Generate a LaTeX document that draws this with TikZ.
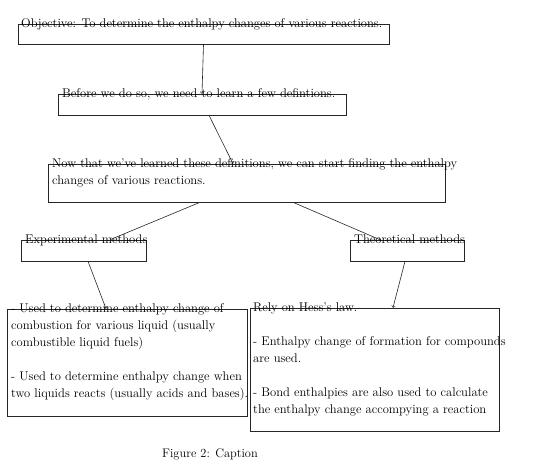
\documentclass[tikz,border=0pt]{standalone}
\usetikzlibrary{calc}
\begin{document}
\begin{tikzpicture}[x=1pt,y=-1pt,
  box/.style={draw=black!85, line width=0.6pt, inner sep=0pt, rectangle},
  txt/.style={inner sep=0pt, anchor=base west, align=left, font=\fontsize{12.6}{17}\selectfont},
  conn/.style={->, draw=black!85, line width=0.6pt}]
\useasboundingbox (0,0) rectangle (540,472);
% boxes
\node[box, minimum width=371pt, minimum height=20pt] (b1) at (203.5,34.5) {};
\node[box, minimum width=288pt, minimum height=21pt] (b2) at (202,104.5) {};
\node[box, minimum width=397pt, minimum height=38pt] (b3) at (246.5,183) {};
\node[box, minimum width=125pt, minimum height=21pt] (b4) at (83.5,250.5) {};
\node[box, minimum width=114pt, minimum height=21pt] (b5) at (407,250.5) {};
\node[box, minimum width=240pt, minimum height=107pt] (b6) at (127,362.5) {};
\node[box, minimum width=249pt, minimum height=123pt] (b7) at (374.5,369.5) {};
% texts (base = baseline of the last line)
\node[txt] (t1) at (21,27.5) {Objective: To determine the enthalpy changes of various reactions.};
\node[txt] (t2) at (62,97) {Before we do so, we need to learn a few defintions.};
\node[txt] (t3) at (52,184) {Now that we've learned these definitions, we can start finding the enthalpy\\changes of various reactions.};
\node[txt] (t4) at (25,243) {Experimental methods};
\node[txt] (t5) at (354,243) {Theoretical methods};
\node[txt] (t6) at (11,397) {- Used to determine enthalpy change of\\combustion for various liquid (usually\\combustible liquid fuels)\\[17pt]- Used to determine enthalpy change when\\two liquids reacts (usually acids and bases).};
\node[txt] (t7) at (253,413) {Rely on Hess's law.\\[17pt]- Enthalpy change of formation for compounds\\are used.\\[17pt]- Bond enthalpies are also used to calculate\\the enthalpy change accompying a reaction};
\node[inner sep=0pt, font=\fontsize{12.4}{15}\selectfont] (cap) at (210,454) {Figure 2: Caption};
% connectors
\draw[conn] (b1.south) -- (b2.north);
\draw[conn] ([xshift=7pt]b2.south) -- ([xshift=-13.5pt]b3.north);
\draw[conn] ([xshift=-46.5pt]b3.south) -- ([xshift=26.5pt]b4.north);
\draw[conn] ([xshift=46.5pt]b3.south) -- ([xshift=-27pt]b5.north);
\draw[conn] ([xshift=4.5pt]b4.south) -- ([xshift=-21pt]b6.north);
\draw[conn] ([xshift=-2pt]b5.south) -- ([xshift=18.5pt]b7.north);
\end{tikzpicture}
\end{document}
